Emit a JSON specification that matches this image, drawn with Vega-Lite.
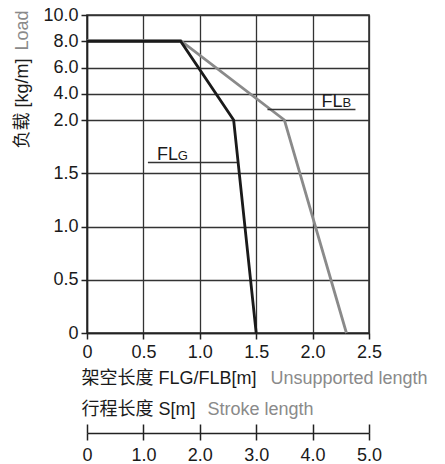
{
  "$schema": "https://vega.github.io/schema/vega-lite/v6.json",
  "width": 282,
  "height": 318,
  "autosize": {"type": "none"},
  "padding": {"left": 87, "top": 15, "right": 76, "bottom": 131},
  "background": "white",
  "config": {
    "view": {"stroke": "#333", "strokeWidth": 1.6},
    "font": "Liberation Sans, Noto Sans CJK SC",
    "axis": {
      "labelFont": "Liberation Sans, Noto Sans CJK SC",
      "titleFont": "Liberation Sans, Noto Sans CJK SC",
      "labelFontSize": 18,
      "titleFontSize": 18,
      "titleFontWeight": "normal",
      "labelColor": "#1a1a1a",
      "titleColor": "#1a1a1a",
      "tickColor": "#222",
      "domainColor": "#222",
      "domainWidth": 1.5,
      "tickWidth": 1.5,
      "gridColor": "#333",
      "gridWidth": 1.3,
      "gridOpacity": 1
    }
  },
  "datasets": {
    "lines": [
      {"series": "FLB", "x": 0, "y": 8.05},
      {"series": "FLB", "x": 0.83, "y": 8.05},
      {"series": "FLB", "x": 1.75, "y": 2},
      {"series": "FLB", "x": 2.3, "y": 0},
      {"series": "FLG", "x": 0, "y": 8},
      {"series": "FLG", "x": 0.83, "y": 8},
      {"series": "FLG", "x": 1.3, "y": 2},
      {"series": "FLG", "x": 1.5, "y": 0}
    ],
    "leaders": [
      {"series": "FLB", "x": 1.6, "x2": 2.38, "y": 2.8},
      {"series": "FLG", "x": 0.54, "x2": 1.33, "y": 1.6}
    ],
    "labels": [
      {"part": "main", "label": "FL", "x": 2.08, "y": 2.8},
      {"part": "sub", "label": "B", "x": 2.265, "y": 2.8},
      {"part": "main", "label": "FL", "x": 0.62, "y": 1.6},
      {"part": "sub", "label": "G", "x": 0.805, "y": 1.6}
    ],
    "stroke": [
      {"s": 0},
      {"s": 5}
    ]
  },
  "resolve": {
    "scale": {"x": "independent", "y": "independent"},
    "axis": {"x": "independent", "y": "independent"}
  },
  "layer": [
    {
      "data": {"name": "lines"},
      "transform": [{"filter": "datum.series == 'FLB'"}],
      "mark": {"type": "line", "color": "#8a8a8a", "strokeWidth": 2.8},
      "encoding": {
        "x": {
          "field": "x", "type": "quantitative",
          "scale": {"domain": [0, 2.5], "nice": false, "zero": false},
          "axis": {
            "orient": "bottom",
            "values": [0, 0.5, 1, 1.5, 2, 2.5],
            "labelExpr": "datum.value == 0 ? '0' : format(datum.value, '.1f')",
            "tickSize": 6,
            "labelPadding": 4,
            "labelFlush": false,
            "grid": true,
            "title": "架空长度  FLG/FLB[m]",
            "titleX": -6,
            "titleY": 50,
            "titleAlign": "left",
            "titleBaseline": "alphabetic"
          }
        },
        "y": {
          "field": "y", "type": "quantitative",
          "scale": {"domain": [0, 2, 10], "range": [318, 105, 0], "nice": false, "zero": false},
          "axis": {
            "orient": "left",
            "values": [0, 0.5, 1, 1.5, 2, 4, 6, 8, 10],
            "labelExpr": "datum.value == 0 ? '0' : format(datum.value, '.1f')",
            "tickSize": 6,
            "labelPadding": 3,
            "labelFlush": false,
            "grid": true,
            "title": "负载 [kg/m]",
            "titleAngle": -90,
            "titleX": -65,
            "titleY": 133,
            "titleAlign": "left",
            "titleBaseline": "middle"
          }
        }
      }
    },
    {
      "data": {"name": "lines"},
      "transform": [{"filter": "datum.series == 'FLG'"}],
      "mark": {"type": "line", "color": "#1a1a1a", "strokeWidth": 2.8},
      "encoding": {
        "x": {"field": "x", "type": "quantitative", "scale": {"domain": [0, 2.5], "nice": false, "zero": false}, "axis": null},
        "y": {"field": "y", "type": "quantitative", "scale": {"domain": [0, 2, 10], "range": [318, 105, 0], "nice": false, "zero": false}, "axis": null}
      }
    },
    {
      "data": {"name": "leaders"},
      "mark": {"type": "rule", "color": "#333", "strokeWidth": 1.5},
      "encoding": {
        "x": {
          "field": "x", "type": "quantitative",
          "scale": {"domain": [0, 2.5], "nice": false, "zero": false},
          "axis": {
            "orient": "bottom",
            "labels": false, "ticks": false, "domain": false, "grid": false,
            "title": "Unsupported length",
            "titleColor": "#8a8a8a",
            "titleX": 183,
            "titleY": 50,
            "titleAlign": "left",
            "titleBaseline": "alphabetic"
          }
        },
        "x2": {"field": "x2"},
        "y": {
          "field": "y", "type": "quantitative",
          "scale": {"domain": [0, 2, 10], "range": [318, 105, 0], "nice": false, "zero": false},
          "axis": {
            "orient": "left",
            "labels": false, "ticks": false, "domain": false, "grid": false,
            "title": "Load",
            "titleColor": "#8a8a8a",
            "titleAngle": -90,
            "titleX": -65,
            "titleY": 35,
            "titleAlign": "left",
            "titleBaseline": "middle"
          }
        }
      }
    },
    {
      "data": {"name": "labels"},
      "mark": {"type": "text", "align": "left", "baseline": "alphabetic", "dy": -3, "color": "#1a1a1a", "font": "Liberation Sans"},
      "encoding": {
        "x": {"field": "x", "type": "quantitative", "scale": {"domain": [0, 2.5], "nice": false, "zero": false}, "axis": null},
        "y": {"field": "y", "type": "quantitative", "scale": {"domain": [0, 2, 10], "range": [318, 105, 0], "nice": false, "zero": false}, "axis": null},
        "text": {"field": "label"},
        "size": {"field": "part", "type": "nominal", "scale": {"domain": ["main", "sub"], "range": [18, 13]}, "legend": null}
      }
    },
    {
      "data": {"name": "stroke"},
      "mark": {"type": "point", "opacity": 0},
      "encoding": {
        "x": {
          "field": "s", "type": "quantitative",
          "scale": {"domain": [0, 5], "nice": false, "zero": false},
          "axis": {
            "orient": "bottom",
            "offset": 100,
            "values": [0, 1, 2, 3, 4, 5],
            "labelExpr": "datum.value == 0 ? '0' : format(datum.value, '.1f')",
            "tickSize": 7,
            "labelPadding": 6,
            "labelFlush": false,
            "grid": false,
            "title": "行程长度 S[m]",
            "titleX": -6,
            "titleY": -19,
            "titleAlign": "left",
            "titleBaseline": "alphabetic"
          }
        }
      }
    },
    {
      "data": {"name": "stroke"},
      "mark": {"type": "point", "opacity": 0},
      "encoding": {
        "x": {
          "field": "s", "type": "quantitative",
          "scale": {"domain": [0, 5], "nice": false, "zero": false},
          "axis": {
            "orient": "bottom",
            "offset": 100,
            "values": [0, 1, 2, 3, 4, 5],
            "tickSize": -9,
            "labels": false,
            "domain": false,
            "grid": false,
            "title": "Stroke length",
            "titleColor": "#8a8a8a",
            "titleX": 120,
            "titleY": -19,
            "titleAlign": "left",
            "titleBaseline": "alphabetic"
          }
        }
      }
    }
  ]
}
